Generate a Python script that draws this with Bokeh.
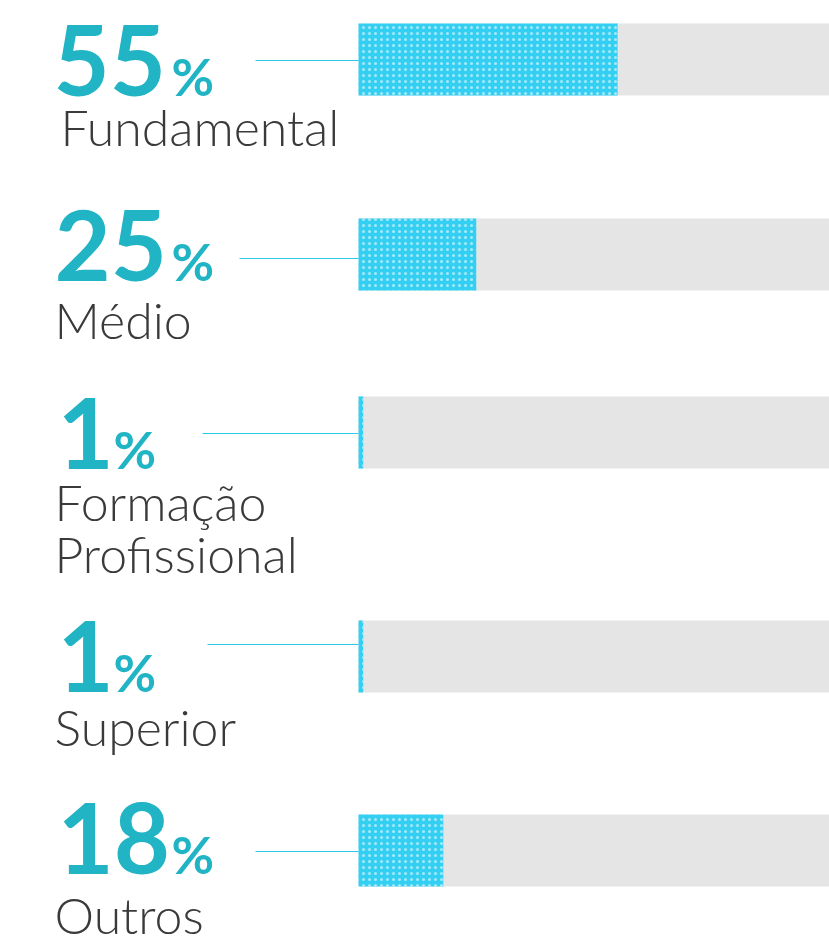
from bokeh.plotting import figure
from bokeh.models import Range1d
from bokeh.core.properties import value
from bokeh.embed import file_html
from bokeh.resources import INLINE

# ---- data ----
categories = ["Fundamental", "Médio", "Formação\nProfissional", "Superior", "Outros"]
percentages = [55, 25, 1, 1, 18]
track_max = 100

# ---- layout (pixel coordinates of the page) ----
W, H = 829, 945
TRACK_LEFT_PX, TRACK_RIGHT_PX = 358, 829
bar_center_px = [59, 254, 432, 656, 850]
bar_h = 72
num_x_px = [53, 54, 57, 57, 57]
num_base_px = [95, 280, 468, 691, 873]
pct_x_px = [171, 171, 113, 113, 171]
line_start_px = [255, 239, 202, 207, 255]
line_y_px = [60, 258, 433, 644, 851]
label_x_px = [60, 54, 54, 54, 54]
label_base_px = [147, 340, 522, 747, 935]
label_line_gap = 52

NUM_SIZE, PCT_SIZE, LABEL_SIZE = 97, 52, 50
# empirical correction of the svg alphabetic baseline (fraction of font size)
NUM_SHIFT, PCT_SHIFT, LABEL_SHIFT = 0.36, 0.40, 0.42

x_end = track_max
x_start = -TRACK_LEFT_PX * track_max / (TRACK_RIGHT_PX - TRACK_LEFT_PX)


def px2x(px):
    return x_start + px / W * (x_end - x_start)


p = figure(width=W, height=H, output_backend="svg", toolbar_location=None,
           x_range=Range1d(x_start, x_end), y_range=Range1d(H, 0),
           min_border=0, outline_line_color=None, background_fill_color="white",
           border_fill_color="white")
p.axis.visible = False
p.grid.visible = False

ys = bar_center_px

# tracks
p.hbar(y=ys, left=0, right=[track_max] * len(ys), height=bar_h,
       fill_color="#e5e5e5", line_color=None)
# value bars with a light texture
p.hbar(y=ys, left=0, right=percentages, height=bar_h,
       fill_color="#33d0f3", line_color=None,
       hatch_pattern="dot", hatch_color="white", hatch_alpha=0.55,
       hatch_scale=6, hatch_weight=2.5)

# connectors
p.segment(x0=[px2x(v) for v in line_start_px], y0=line_y_px,
          x1=[0] * len(ys), y1=line_y_px,
          line_color="#2ccbec", line_width=1.2)

# big numbers
p.text(x=[px2x(v) for v in num_x_px], y=[v - NUM_SHIFT * NUM_SIZE for v in num_base_px],
       text=[str(v) for v in percentages], text_font=value("Lato"),
       text_font_style="bold", text_font_size=f"{NUM_SIZE}px", text_color="#20b4c4",
       text_baseline="alphabetic", text_align="left")
p.text(x=[px2x(v) for v in pct_x_px], y=[v + 1 - PCT_SHIFT * PCT_SIZE for v in num_base_px],
       text=["%"] * len(ys), text_font=value("Lato"),
       text_font_style="bold", text_font_size=f"{PCT_SIZE}px", text_color="#20b4c4",
       text_baseline="alphabetic", text_align="left")

# category labels (one glyph per line)
lx, ly, lt = [], [], []
for cat, x0, b in zip(categories, label_x_px, label_base_px):
    for i, part in enumerate(cat.split("\n")):
        lx.append(px2x(x0))
        ly.append(b + i * label_line_gap - LABEL_SHIFT * LABEL_SIZE)
        lt.append(part)
p.text(x=lx, y=ly, text=lt, text_font=value("Lato Light"),
       text_font_size=f"{LABEL_SIZE}px", text_color="#3a3a3a",
       text_baseline="alphabetic", text_align="left")

open("out.html", "w").write(file_html(p, INLINE))
